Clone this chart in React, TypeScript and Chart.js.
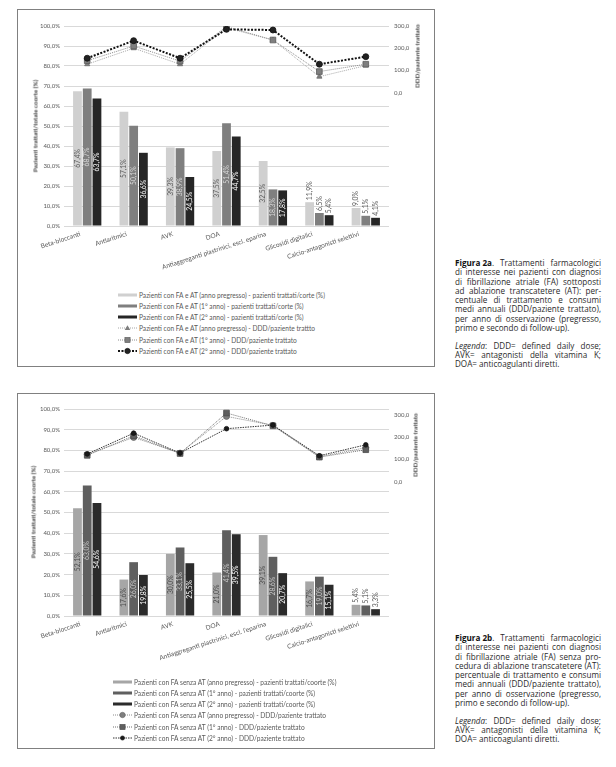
import React, { useEffect, useRef } from "react";
import { Chart, registerables } from "chart.js";
Chart.register(...registerables);

// ---------- DATA ----------
const categories1 = [
  "Beta-bloccanti",
  "Antiaritmici",
  "AVK",
  "DOA",
  "Antiaggreganti piastrinici, escl. eparina",
  "Glicosidi digitalici",
  "Calcio-antagonisti selettivi",
];
const categories2 = [
  "Beta-bloccanti",
  "Antiaritmici",
  "AVK",
  "DOA",
  "Antiaggreganti piastrinici, escl. l'eparina",
  "Glicosidi digitalici",
  "Calcio-antagonisti selettivi",
];

// Figura 2a – % pazienti trattati
const pct1Pregresso = [67.4, 57.1, 39.3, 37.5, 32.5, 11.9, 9.0];
const pct1Anno1 = [68.7, 50.1, 38.9, 51.4, 18.3, 6.5, 5.1];
const pct1Anno2 = [63.7, 36.6, 24.5, 44.7, 17.8, 5.4, 4.1];
// Figura 2a – DDD/paziente trattato
const ddd1Pregresso = [128, 200, 128, 292, 237, 72, 122];
const ddd1Anno1 = [144, 210, 142, 297, 237, 95, 128];
const ddd1Anno2 = [155, 234, 155, 285, 282, 128, 162];

// Figura 2b – % pazienti trattati
const pct2Pregresso = [52.1, 17.6, 30.0, 21.0, 39.1, 16.7, 5.4];
const pct2Anno1 = [63.0, 26.0, 33.1, 41.4, 28.6, 19.0, 5.1];
const pct2Anno2 = [54.6, 19.8, 25.5, 39.5, 20.7, 15.1, 3.3];
// Figura 2b – DDD/paziente trattato
const ddd2Pregresso = [122, 198, 128, 292, 252, 112, 152];
const ddd2Anno1 = [118, 205, 126, 307, 250, 110, 143];
const ddd2Anno2 = [124, 217, 128, 237, 253, 116, 165];

const legend1Labels = [
  "Pazienti con FA e AT (anno pregresso) - pazienti trattati/corte (%)",
  "Pazienti con FA e AT (1° anno) - pazienti trattati/corte (%)",
  "Pazienti con FA e AT (2° anno) - pazienti trattati/corte (%)",
  "Pazienti con FA e AT (anno pregresso) - DDD/paziente trattto",
  "Pazienti con FA e AT (1° anno) - DDD/paziente trattato",
  "Pazienti con FA e AT (2° anno) - DDD/paziente trattato",
];
const legend2Labels = [
  "Pazienti con FA senza AT (anno pregresso) - pazienti trattati/coorte (%)",
  "Pazienti con FA senza AT (1° anno) - pazienti trattati/coorte (%)",
  "Pazienti con FA senza AT (2° anno) - pazienti trattati/coorte (%)",
  "Pazienti con FA senza AT (anno pregresso) - DDD/paziente trattato",
  "Pazienti con FA senza AT (1° anno) - DDD/paziente trattato",
  "Pazienti con FA senza AT (2° anno) - DDD/paziente trattato",
];

const leftTitle = "Pazienti trattati/totale coorte (%)";
const rightTitle = "DDD/paziente trattato";

const caption1Lines = [
  "Trattamenti farmacologici",
  "di interesse nei pazienti con diagnosi",
  "di fibrillazione atriale (FA) sottoposti",
  "ad ablazione transcatetere (AT): per-",
  "centuale di trattamento e consumi",
  "medi annuali (DDD/paziente trattato),",
  "per anno di osservazione (pregresso,",
  "primo e secondo di follow-up).",
];
const caption2Lines = [
  "Trattamenti farmacologici",
  "di interesse nei pazienti con diagnosi",
  "di fibrillazione atriale (FA) senza pro-",
  "cedura di ablazione transcatetere (AT):",
  "percentuale di trattamento e consumi",
  "medi annuali (DDD/paziente trattato),",
  "per anno di osservazione (pregresso,",
  "primo e secondo di follow-up).",
];
const legendaLines = [
  "DDD= defined daily dose;",
  "AVK= antagonisti della vitamina K;",
  "DOA= anticoagulanti diretti.",
];

// ---------- STYLES ----------
const CHART_FONT = "Lato";
const TEXT_GREY = "#595959";

type LineStyle = {
  color: string;
  width: number;
  dash: number[];
  marker: "triangle" | "rect" | "circle";
  radius: number;
  fill: string;
  stroke: string;
};

const barColors1 = ["#d0d0d0", "#7f7f7f", "#262626"];
const barLabelColors1 = ["#5a5a5a", "#d9d9d9", "#ffffff"];
const lineStyles1: LineStyle[] = [
  { color: "#a6a6a6", width: 1, dash: [1, 1], marker: "triangle", radius: 3, fill: "#7f7f7f", stroke: "#6a6a6a" },
  { color: "#8c8c8c", width: 1, dash: [1, 1], marker: "rect", radius: 4, fill: "#7f7f7f", stroke: "#5a5a5a" },
  { color: "#111111", width: 2, dash: [2, 1.5], marker: "circle", radius: 3, fill: "#222222", stroke: "#111111" },
];

const barColors2 = ["#a6a6a6", "#5f5f5f", "#2b2b2b"];
const barLabelColors2 = ["#4a4a4a", "#c8c8c8", "#ffffff"];
const lineStyles2: LineStyle[] = [
  { color: "#8c8c8c", width: 1, dash: [1, 1], marker: "circle", radius: 3, fill: "#7f7f7f", stroke: "#666666" },
  { color: "#707070", width: 1, dash: [1, 1], marker: "rect", radius: 4, fill: "#5f5f5f", stroke: "#4a4a4a" },
  { color: "#333333", width: 1, dash: [1.5, 1], marker: "circle", radius: 2.3, fill: "#1a1a1a", stroke: "#111111" },
];

const fmtPct = (v: number) => v.toFixed(1).replace(".", ",") + "%";
const fmtNum = (v: number) => v.toFixed(1).replace(".", ",");

function makeLabelPlugin(insideColors: string[], threshold: number) {
  return {
    id: "barValueLabels",
    afterDatasetsDraw(chart: any) {
      const ctx = chart.ctx;
      let barIdx = 0;
      chart.data.datasets.forEach((ds: any, i: number) => {
        if (ds.type !== "bar") return;
        const meta = chart.getDatasetMeta(i);
        const col = insideColors[barIdx++];
        meta.data.forEach((el: any, j: number) => {
          const v = ds.data[j] as number;
          const text = fmtPct(v);
          ctx.save();
          ctx.font = `6.8px ${CHART_FONT}`;
          const w = ctx.measureText(text).width;
          let cy: number;
          let color: string;
          if (v >= threshold) {
            cy = (el.y + el.base) / 2;
            color = col;
          } else {
            cy = el.y - 2 - w / 2;
            color = TEXT_GREY;
          }
          ctx.translate(el.x, cy);
          ctx.rotate(-Math.PI / 2);
          ctx.textAlign = "center";
          ctx.textBaseline = "middle";
          ctx.fillStyle = color;
          ctx.fillText(text, 0, 0);
          ctx.restore();
        });
      });
    },
  };
}

type ChartProps = {
  categories: string[];
  bars: number[][];
  lines: number[][];
  barColors: string[];
  barLabelColors: string[];
  lineStyles: LineStyle[];
  y2Max: number;
  width: number;
  height: number;
  padTop: number;
  xHeight: number;
};

function ComboChart(p: ChartProps) {
  const ref = useRef<HTMLCanvasElement | null>(null);
  useEffect(() => {
    if (!ref.current) return;
    const font = { family: CHART_FONT, size: 6 };
    const barDs = p.bars.map((d, i) => ({
      type: "bar" as const,
      data: d,
      backgroundColor: p.barColors[i],
      borderWidth: 0,
      yAxisID: "y",
      order: 10 + i,
      barPercentage: 0.9,
      categoryPercentage: 0.63,
    }));
    const lineDs = p.lines.map((d, i) => {
      const s = p.lineStyles[i];
      return {
        type: "line" as const,
        data: d,
        yAxisID: "y2",
        order: 3 - i,
        borderColor: s.color,
        borderWidth: s.width,
        borderDash: s.dash,
        pointStyle: s.marker,
        pointRadius: s.radius,
        pointBackgroundColor: s.fill,
        pointBorderColor: s.stroke,
        pointBorderWidth: 0.8,
        fill: false,
        tension: 0,
      };
    });
    const chart = new Chart(ref.current, {
      type: "bar",
      data: { labels: p.categories, datasets: [...barDs, ...lineDs] as any },
      options: {
        responsive: false,
        animation: false,
        devicePixelRatio: 1,
        layout: { padding: { top: p.padTop, left: 0, right: 0, bottom: 0 } },
        plugins: { legend: { display: false }, tooltip: { enabled: false } },
        scales: {
          x: {
            grid: { display: false, drawTicks: false },
            border: { display: false },
            ticks: {
              font: { family: CHART_FONT, size: 6.5 },
              color: TEXT_GREY,
              minRotation: 18,
              maxRotation: 18,
              autoSkip: false,
              padding: 4,
              labelOffset: -7,
            },
            afterFit: (s: any) => {
              s.height = p.xHeight;
            },
          },
          y: {
            position: "left",
            min: 0,
            max: 100,
            ticks: {
              stepSize: 10,
              font,
              color: TEXT_GREY,
              padding: 4,
              autoSkip: false,
              callback: (v: any) => fmtPct(Number(v)),
            },
            grid: { color: "#d9d9d9", lineWidth: 1, drawTicks: false },
            border: { display: false },
            afterFit: (s: any) => {
              s.width = 46;
            },
          },
          y2: {
            position: "right",
            min: -600,
            max: p.y2Max,
            afterBuildTicks: (s: any) => {
              s.ticks = s.ticks.filter((t: any) => t.value % 100 === 0);
            },
            ticks: {
              stepSize: 100,
              includeBounds: false,
              font,
              color: TEXT_GREY,
              padding: 5,
              autoSkip: false,
              callback: (v: any) => {
                const n = Number(v);
                return n >= 0 && n % 100 === 0 ? fmtNum(n) : "";
              },
            },
            grid: { display: false, drawTicks: false },
            border: { display: false },
            afterFit: (s: any) => {
              s.width = p.width - 46 - 325;
            },
          },
        },
      } as any,
      plugins: [makeLabelPlugin(p.barLabelColors, 12)],
    });
    return () => chart.destroy();
  }, []);
  return <canvas ref={ref} width={p.width} height={p.height} style={{ position: "absolute", left: 0, top: 0 }} />;
}

function RotTitle({ text, cx, cy }: { text: string; cx: number; cy: number }) {
  return (
    <div
      style={{
        position: "absolute",
        left: cx,
        top: cy,
        transform: "translate(-50%, -50%) rotate(-90deg)",
        whiteSpace: "nowrap",
        font: `bold 6.3px ${CHART_FONT}`,
        color: "#404040",
        lineHeight: "7px",
      }}
    >
      {text}
    </div>
  );
}

type SymbolSpec =
  | { kind: "bar"; color: string }
  | { kind: "line"; style: LineStyle };

function LegendSymbol({ spec }: { spec: SymbolSpec }) {
  if (spec.kind === "bar") {
    return (
      <svg width={19} height={8} style={{ display: "block" }}>
        <rect x={0} y={2.5} width={19} height={3} fill={spec.color} />
      </svg>
    );
  }
  const s = spec.style;
  const cx = 9.5;
  const cy = 4;
  let marker: React.ReactNode = null;
  if (s.marker === "circle") marker = <circle cx={cx} cy={cy} r={s.radius * 0.9} fill={s.fill} stroke={s.stroke} strokeWidth={0.6} />;
  if (s.marker === "rect") marker = <rect x={cx - 2.6} y={cy - 2.6} width={5.2} height={5.2} fill={s.fill} stroke={s.stroke} strokeWidth={0.6} />;
  if (s.marker === "triangle")
    marker = <polygon points={`${cx},${cy - 2.8} ${cx + 2.8},${cy + 2} ${cx - 2.8},${cy + 2}`} fill={s.fill} />;
  return (
    <svg width={19} height={8} style={{ display: "block" }}>
      <line x1={0} y1={cy} x2={19} y2={cy} stroke={s.color} strokeWidth={s.width} strokeDasharray={s.dash.join(",")} />
      {marker}
    </svg>
  );
}

function Legend({ labels, specs, left, top, step }: { labels: string[]; specs: SymbolSpec[]; left: number; top: number; step: number }) {
  return (
    <>
      {labels.map((l, i) => (
        <div
          key={i}
          style={{
            position: "absolute",
            left,
            top: top + i * step - 4,
            height: 8,
            display: "flex",
            alignItems: "center",
            whiteSpace: "nowrap",
          }}
        >
          <LegendSymbol spec={specs[i]} />
          <span style={{ marginLeft: 2, font: `6.6px ${CHART_FONT}`, color: TEXT_GREY, lineHeight: "8px" }}>{l}</span>
        </div>
      ))}
    </>
  );
}

function JustLine({ content, justify, lh }: { content: React.ReactNode[]; justify: boolean; lh: number }) {
  return (
    <div
      style={{
        width: 146,
        height: lh,
        lineHeight: `${lh}px`,
        display: "flex",
        justifyContent: justify ? "space-between" : "flex-start",
        whiteSpace: "nowrap",
      }}
    >
      {content.map((w, i) => (
        <span key={i} style={{ marginRight: justify ? 0 : "0.26em" }}>
          {w}
        </span>
      ))}
    </div>
  );
}

function Caption({ figure, lines, top }: { figure: string; lines: string[]; top: number }) {
  const lh = 9.3;
  return (
    <div style={{ position: "absolute", left: 455, top, font: `8.1px "Open Sans"`, color: "#2a2a2a" }}>
      {lines.map((l, i) => {
        const words: React.ReactNode[] = l.split(" ");
        if (i === 0) words.unshift(<><b style={{ color: "#111" }}>{figure}</b>.</>);
        return <JustLine key={i} content={words} justify={i !== lines.length - 1} lh={lh} />;
      })}
      <div style={{ height: lh * 0.9 }} />
      {legendaLines.map((l, i) => {
        const words: React.ReactNode[] = l.split(" ");
        if (i === 0) words.unshift(<><i>Legenda</i>:</>);
        return <JustLine key={i} content={words} justify={i !== legendaLines.length - 1} lh={lh} />;
      })}
    </div>
  );
}

export default function App() {
  const specs1: SymbolSpec[] = [
    { kind: "bar", color: barColors1[0] },
    { kind: "bar", color: barColors1[1] },
    { kind: "bar", color: barColors1[2] },
    { kind: "line", style: lineStyles1[0] },
    { kind: "line", style: lineStyles1[1] },
    { kind: "line", style: lineStyles1[2] },
  ];
  const specs2: SymbolSpec[] = [
    { kind: "bar", color: barColors2[0] },
    { kind: "bar", color: barColors2[1] },
    { kind: "bar", color: barColors2[2] },
    { kind: "line", style: lineStyles2[0] },
    { kind: "line", style: lineStyles2[1] },
    { kind: "line", style: lineStyles2[2] },
  ];
  const boxStyle: React.CSSProperties = {
    position: "absolute",
    left: 17,
    width: 418,
    border: "1px solid #808080",
    boxSizing: "border-box",
  };
  return (
    <div style={{ position: "absolute", left: 0, top: 0, width: 616, height: 767, background: "#fff" }}>
      {/* Figura 2a */}
      <div style={{ ...boxStyle, top: 9, height: 358 }}>
        <ComboChart
          categories={categories1}
          bars={[pct1Pregresso, pct1Anno1, pct1Anno2]}
          lines={[ddd1Pregresso, ddd1Anno1, ddd1Anno2]}
          barColors={barColors1}
          barLabelColors={barLabelColors1}
          lineStyles={lineStyles1}
          y2Max={300}
          width={416}
          height={280}
          padTop={16}
          xHeight={64}
        />
      </div>
      <RotTitle text={leftTitle} cx={35} cy={126} />
      <RotTitle text={rightTitle} cx={417} cy={56} />
      <Legend labels={legend1Labels} specs={specs1} left={118} top={294.5} step={11.3} />
      <Caption figure="Figura 2a" lines={caption1Lines} top={258} />

      {/* Figura 2b */}
      <div style={{ ...boxStyle, top: 393, height: 356 }}>
        <ComboChart
          categories={categories2}
          bars={[pct2Pregresso, pct2Anno1, pct2Anno2]}
          lines={[ddd2Pregresso, ddd2Anno1, ddd2Anno2]}
          barColors={barColors2}
          barLabelColors={barLabelColors2}
          lineStyles={lineStyles2}
          y2Max={325}
          width={416}
          height={290}
          padTop={15}
          xHeight={68}
        />
      </div>
      <RotTitle text={leftTitle} cx={33} cy={512} />
      <RotTitle text={rightTitle} cx={415} cy={445} />
      <Legend labels={legend2Labels} specs={specs2} left={113} top={681.7} step={11.2} />
      <Caption figure="Figura 2b" lines={caption2Lines} top={633} />
    </div>
  );
}
